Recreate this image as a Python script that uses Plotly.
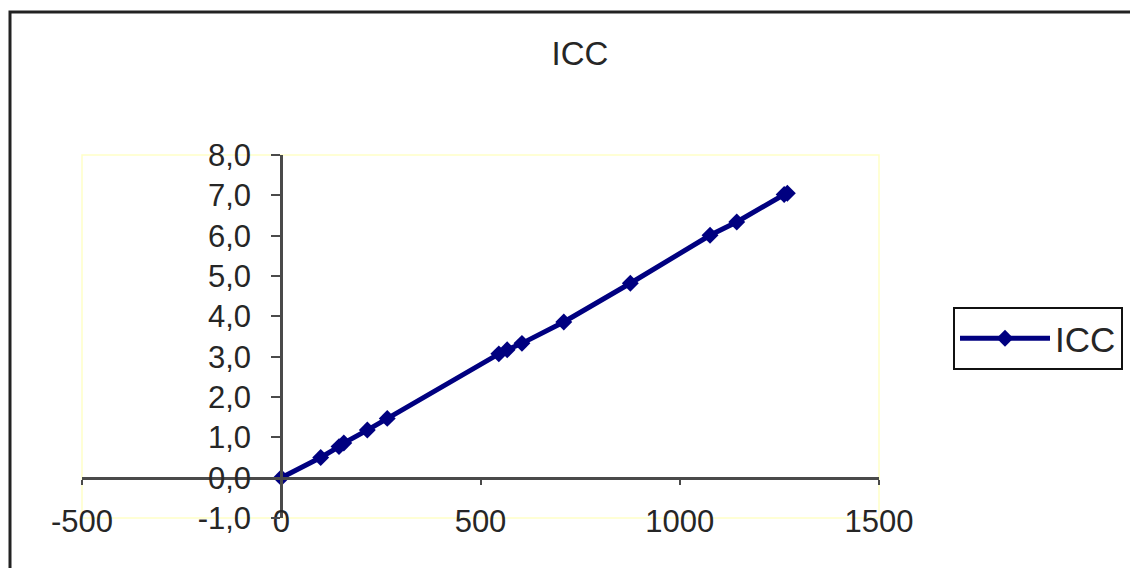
import plotly.graph_objects as go

# Series values
icc_x = [0, 99, 145, 157, 216, 266, 546, 567, 604, 709, 876, 1076, 1143, 1262, 1270]
icc_y = [0.0, 0.50, 0.77, 0.86, 1.18, 1.47, 3.07, 3.17, 3.33, 3.86, 4.82, 6.01, 6.34, 7.02, 7.05]

# Tick labels (comma decimal separator)
x_tick_vals = [-500, 0, 500, 1000, 1500]
x_tick_text = ["-500", "0", "500", "1000", "1500"]
y_tick_vals = [-1, 0, 1, 2, 3, 4, 5, 6, 7, 8]
y_tick_text = ["-1,0", "0,0", "1,0", "2,0", "3,0", "4,0", "5,0", "6,0", "7,0", "8,0"]

W, H = 1130, 568
ML, MR, MT, MB = 82, 251, 155, 50
PW, PH = W - ML - MR, H - MT - MB

FONT = "Liberation Sans, Arial, sans-serif"
NAVY = "#000080"
AXIS = "#4a4a4a"
TEXT = "#262626"


def px_x(p):
    return (p - ML) / PW


def px_y(p):
    return (H - MB - p) / PH


fig = go.Figure()
fig.add_trace(go.Scatter(
    x=icc_x, y=icc_y, name="ICC", mode="lines+markers",
    line=dict(color=NAVY, width=5),
    marker=dict(symbol="diamond", size=13, color=NAVY),
))

fig.update_layout(
    width=W, height=H,
    margin=dict(l=ML, r=MR, t=MT, b=MB, autoexpand=False),
    paper_bgcolor="white", plot_bgcolor="white",
    font=dict(family=FONT, size=31, color=TEXT),
    title=dict(text="ICC", x=580 / W, xanchor="center", y=1 - 53 / H,
               yanchor="middle", font=dict(size=33, color=TEXT)),
    showlegend=True,
    legend=dict(
        x=px_x(953), y=px_y(307), xanchor="left", yanchor="top",
        bordercolor="#111111", borderwidth=2, bgcolor="white",
        font=dict(size=35, color=TEXT), itemwidth=90,
    ),
    xaxis=dict(
        range=[-500, 1500], domain=[0, 1], anchor="free", position=1 / 9,
        showgrid=False, zeroline=False,
        showline=True, linecolor=AXIS, linewidth=3,
        ticks="outside", ticklen=5, tickwidth=2, tickcolor=AXIS,
        tickvals=x_tick_vals, ticktext=x_tick_text,
        ticklabelstandoff=10,
    ),
    yaxis=dict(
        range=[-1, 8], domain=[0, 1], anchor="free", position=0.25,
        showgrid=False, zeroline=False,
        showline=True, linecolor=AXIS, linewidth=3,
        ticks="outside", ticklen=9, tickwidth=2, tickcolor=AXIS,
        tickvals=y_tick_vals, ticktext=y_tick_text,
        ticklabelstandoff=14,
    ),
    shapes=[
        # plot area frame
        dict(type="rect", xref="paper", yref="paper", x0=0, y0=0, x1=1, y1=1,
             line=dict(color="#ffffc8", width=1.5), layer="below"),
        # chart area frame (runs off the right and bottom edges)
        dict(type="rect", xref="paper", yref="paper",
             x0=px_x(10), y0=px_y(H + 20), x1=px_x(W + 20), y1=px_y(12),
             line=dict(color="#222222", width=3), layer="above"),
    ],
)

fig.write_html("out.html")
